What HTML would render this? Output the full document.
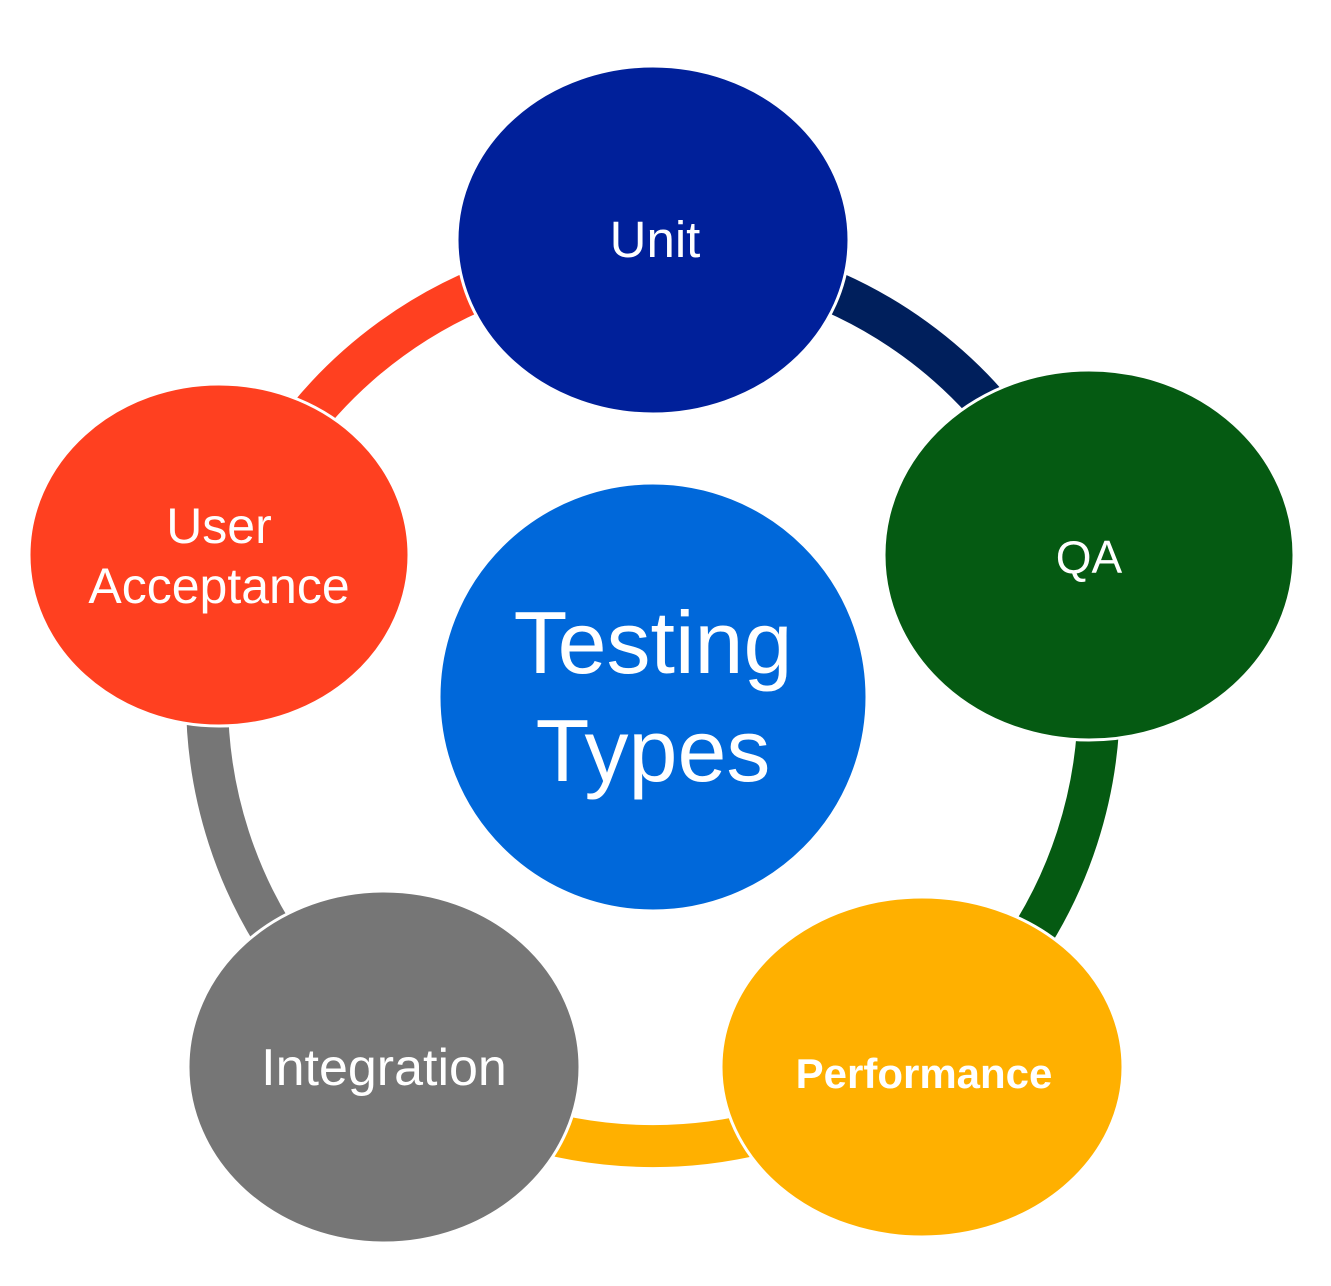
<!DOCTYPE html>
<html><head><meta charset="utf-8"><style>
html,body{margin:0;padding:0;background:#fff;}
svg{display:block;}
text{font-family:"Liberation Sans","DejaVu Sans",sans-serif;fill:#fff;text-anchor:middle;}
</style></head><body>
<svg width="1331" height="1286" viewBox="0 0 1331 1286">
<g fill="none" stroke-width="42">
<path d="M653 254 A446 446 0 0 1 1077 562" stroke="#001F5C"/>
<path d="M1077 562 A446 446 0 0 1 915 1061" stroke="#055A12"/>
<path d="M915 1061 A446 446 0 0 1 391 1061" stroke="#FFB000"/>
<path d="M391 1061 A446 446 0 0 1 229 562" stroke="#767676"/>
<path d="M229 562 A446 446 0 0 1 653 254" stroke="#FF4020"/>
</g>
<g stroke="#fff" stroke-width="3">
<ellipse cx="653" cy="240" rx="196" ry="174" fill="#00209A"/>
<ellipse cx="1089" cy="555" rx="205" ry="185" fill="#055A12"/>
<ellipse cx="922" cy="1067" rx="201" ry="170" fill="#FFB000"/>
<ellipse cx="384" cy="1067" rx="196" ry="176" fill="#767676"/>
<ellipse cx="219" cy="555" rx="190" ry="171" fill="#FF4020"/>
<circle cx="653" cy="697" r="214" fill="#0068DA"/>
</g>
<text x="655" y="257" font-size="51">Unit</text>
<text x="1089" y="573" font-size="46">QA</text>
<text x="924" y="1088" font-size="42" font-weight="bold">Performance</text>
<text x="384" y="1085" font-size="52">Integration</text>
<text x="219" y="543" font-size="50">User</text>
<text x="219" y="603" font-size="50">Acceptance</text>
<text x="653" y="673" font-size="88">Testing</text>
<text x="653" y="781" font-size="88">Types</text>
</svg>
</body></html>
